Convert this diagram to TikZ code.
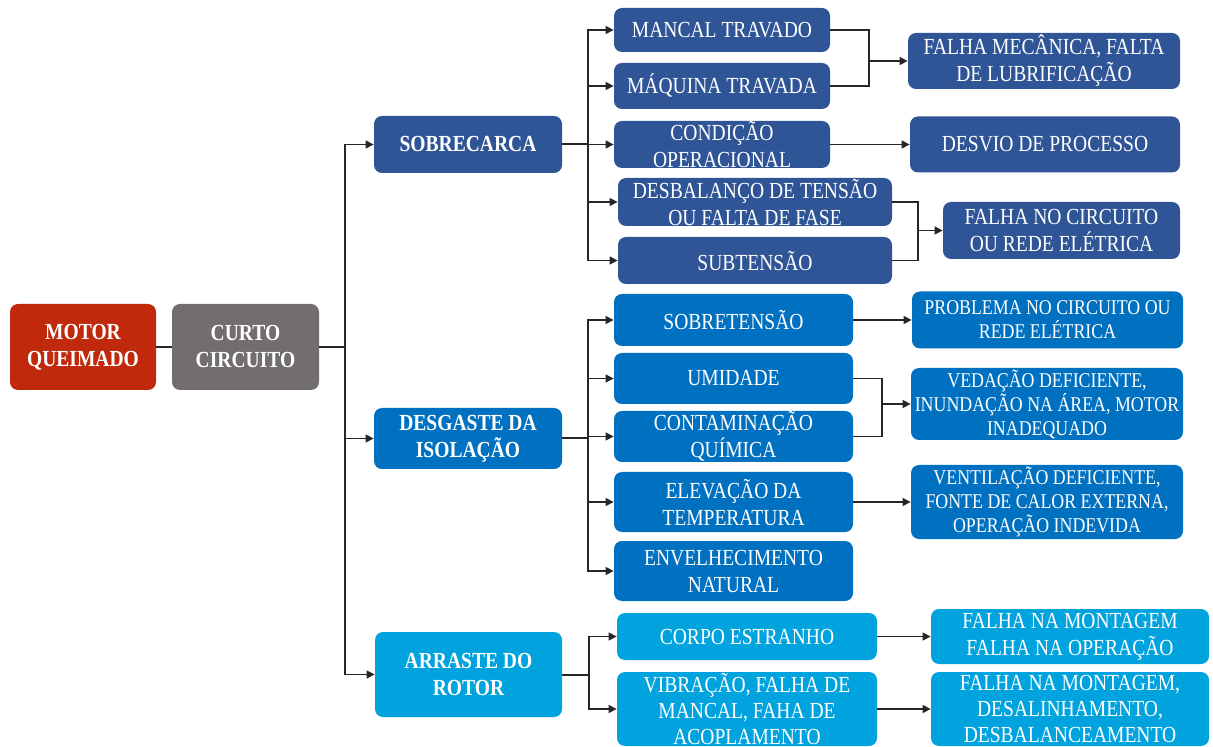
\documentclass[tikz,border=0pt]{standalone}
\usepackage{fontspec}
\setmainfont{Liberation Serif}[FakeStretch=0.85]
\usetikzlibrary{arrows.meta}
\definecolor{burnred}{RGB}{192, 41, 11}
\definecolor{shortgray}{RGB}{115, 110, 110}
\definecolor{loadblue}{RGB}{47, 85, 151}
\definecolor{insblue}{RGB}{0, 112, 192}
\definecolor{rotorblue}{RGB}{0, 163, 222}

\begin{document}
\begin{tikzpicture}[x=0.5pt, y=-0.5pt,
  box/.style={rounded corners=4pt, text=white, inner sep=0pt, align=center,
    font=\fontsize{11.5}{13.5}\selectfont},
  smallbox/.style={box, font=\fontsize{10.5}{12}\selectfont},
  head/.style={box, font=\fontsize{11.5}{13.5}\selectfont\bfseries},
  link/.style={line width=0.7pt, black!85},
  arr/.style={link, -{Triangle[length=4pt, width=4pt]}},
]
\useasboundingbox (0,0) rectangle (1213,747);

% Root and short circuit
\node[head, fill=burnred, minimum width=73pt, minimum height=43pt] (motor) at (83, 347)
{MOTOR\\QUEIMADO};
\node[head, fill=shortgray, minimum width=73.5pt, minimum height=43pt] (curto) at (245.5, 347)
{CURTO\\CIRCUITO};
\coordinate (trunk) at (345, 347);
\draw[link] (motor) -- (curto);
\draw[link, line width=1pt] (curto) -- (trunk);

% Overload branch
\node[head, fill=loadblue, minimum width=94pt, minimum height=28.5pt] (sobre) at (468, 144.5)
{SOBRECARCA};

\node[box, fill=loadblue, minimum width=108pt, minimum height=22pt] (mancal) at (722, 30)
{MANCAL TRAVADO};
\node[box, fill=loadblue, minimum width=108pt, minimum height=23pt] (maquina) at (722, 86)
{MÁQUINA TRAVADA};
\node[box, fill=loadblue, minimum width=108pt, minimum height=23.5pt] (condicao) at (722, 144.5)
{CONDIÇÃO\\OPERACIONAL};
\node[box, fill=loadblue, minimum width=137pt, minimum height=24pt] (desbal) at (755, 202)
{DESBALANÇO DE TENSÃO\\OU FALTA DE FASE};
\node[box, fill=loadblue, minimum width=137pt, minimum height=23.5pt] (subtensao) at (755, 260.5)
{SUBTENSÃO};

\node[box, fill=loadblue, minimum width=136pt, minimum height=28pt] (falhamec) at (1044, 61)
{FALHA MECÂNICA, FALTA\\DE LUBRIFICAÇÃO};
\node[box, fill=loadblue, minimum width=135pt, minimum height=28pt] (desvio) at (1045, 144.5)
{DESVIO DE PROCESSO};
\node[box, fill=loadblue, minimum width=118.5pt, minimum height=28.5pt] (falhacirc) at (1061.5, 230.5)
{FALHA NO CIRCUITO\\OU REDE ELÉTRICA};

\coordinate (sobrej) at (588, 144.5);
\draw[link, line width=1pt] (sobre) -- (sobrej);
\foreach \n in {mancal, maquina, condicao, desbal, subtensao}
  \draw[arr] (sobrej) |- (\n.west);
\coordinate (mecj) at (869, 61);
\draw[link] (mancal.east) -| (mecj);
\draw[link] (maquina.east) -| (mecj);
\draw[arr] (mecj) -- (falhamec.west);
\draw[arr] (condicao.east) -- (desvio.west);
\coordinate (circj) at (918, 230.5);
\draw[link] (desbal.east) -| (circj);
\draw[link] (subtensao.east) -| (circj);
\draw[arr] (circj) -- (falhacirc.west);

% Insulation wear branch
\node[head, fill=insblue, minimum width=94pt, minimum height=30.5pt] (desgaste) at (468, 438.5)
{DESGASTE DA\\ISOLAÇÃO};

\node[box, fill=insblue, minimum width=119.5pt, minimum height=26pt] (sobret) at (733.5, 320)
{SOBRETENSÃO};
\node[box, fill=insblue, minimum width=119.5pt, minimum height=25.5pt] (umidade) at (733.5, 378.5)
{UMIDADE};
\node[box, fill=insblue, minimum width=119.5pt, minimum height=25.5pt] (contam) at (733.5, 436.5)
{CONTAMINAÇÃO\\QUÍMICA};
\node[box, fill=insblue, minimum width=119.5pt, minimum height=30pt] (elev) at (733.5, 502)
{ELEVAÇÃO DA\\TEMPERATURA};
\node[box, fill=insblue, minimum width=119.5pt, minimum height=30pt] (envel) at (733.5, 571)
{ENVELHECIMENTO\\NATURAL};

\node[smallbox, fill=insblue, minimum width=135.5pt, minimum height=28.5pt] (problema) at (1047.5, 320)
{PROBLEMA NO CIRCUITO OU\\REDE ELÉTRICA};
\node[smallbox, fill=insblue, minimum width=136pt, minimum height=36pt] (vedacao) at (1047, 404)
{VEDAÇÃO DEFICIENTE,\\INUNDAÇÃO NA ÁREA, MOTOR\\INADEQUADO};
\node[smallbox, fill=insblue, minimum width=136pt, minimum height=37pt] (ventil) at (1047, 502)
{VENTILAÇÃO DEFICIENTE,\\FONTE DE CALOR EXTERNA,\\OPERAÇÃO INDEVIDA};

\coordinate (desgj) at (588, 438.5);
\draw[link, line width=1pt] (desgaste) -- (desgj);
\foreach \n in {sobret, umidade, contam, elev, envel}
  \draw[arr] (desgj) |- (\n.west);
\draw[arr] (sobret.east) -- (problema.west);
\coordinate (vedj) at (882, 404);
\draw[link] (umidade.east) -| (vedj);
\draw[link] (contam.east) -| (vedj);
\draw[arr] (vedj) -- (vedacao.west);
\draw[arr] (elev.east) -- (ventil.west);

% Rotor drag branch
\node[head, fill=rotorblue, minimum width=93.5pt, minimum height=42.5pt] (arraste) at (468.5, 674.5)
{ARRASTE DO\\ROTOR};

\node[box, fill=rotorblue, minimum width=130pt, minimum height=23.5pt] (corpo) at (747, 636.5)
{CORPO ESTRANHO};
\node[box, fill=rotorblue, minimum width=130pt, minimum height=37pt,
  font=\fontsize{11.5}{12.8}\selectfont] (vibracao) at (747, 709)
{VIBRAÇÃO, FALHA DE\\MANCAL, FAHA DE\\ACOPLAMENTO};

\node[box, fill=rotorblue, minimum width=139pt, minimum height=27.5pt] (montop) at (1070, 636.5)
{FALHA NA MONTAGEM\\FALHA NA OPERAÇÃO};
\node[box, fill=rotorblue, minimum width=139pt, minimum height=37pt,
  font=\fontsize{11.5}{12.8}\selectfont] (montdes) at (1070, 709)
{FALHA NA MONTAGEM,\\DESALINHAMENTO,\\DESBALANCEAMENTO};

\coordinate (arrj) at (589, 674.5);
\draw[link, line width=1pt] (arraste) -- (arrj);
\foreach \n in {corpo, vibracao}
  \draw[arr] (arrj) |- (\n.west);
\draw[arr] (corpo.east) -- (montop.west);
\draw[arr] (vibracao.east) -- (montdes.west);

% Trunk to the three causes
\foreach \n in {sobre, desgaste, arraste}
  \draw[arr] (trunk) |- (\n.west);
\end{tikzpicture}
\end{document}
